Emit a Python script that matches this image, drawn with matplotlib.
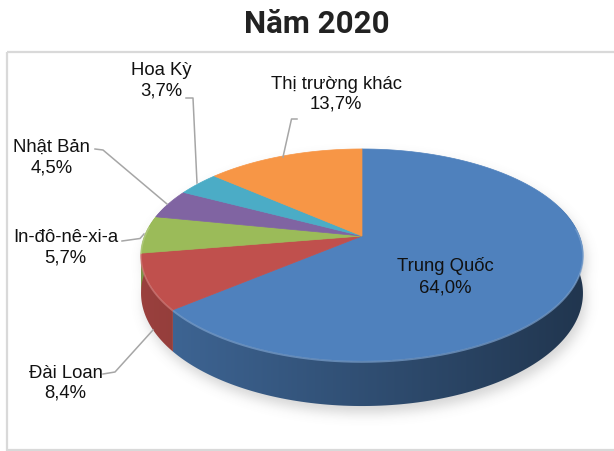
import numpy as np
import matplotlib
matplotlib.use("Agg")
import matplotlib.pyplot as plt
from matplotlib.patches import Polygon, Rectangle
from matplotlib.path import Path

# ---- data -------------------------------------------------------------
title = "Năm 2020"
markets = ["Trung Quốc", "Đài Loan", "In-đô-nê-xi-a", "Nhật Bản", "Hoa Kỳ", "Thị trường khác"]
shares = [64.0, 8.4, 5.7, 4.5, 3.7, 13.7]
colors = ["#4f81bd", "#c0504d", "#9bbb59", "#8064a2", "#4bacc6", "#f79646"]

# ---- figure in pixel coordinates -------------------------------------
W, H = 614, 452
fig = plt.figure(figsize=(W / 100, H / 100), dpi=100)
ax = fig.add_axes([0, 0, 1, 1])
ax.set_xlim(0, W)
ax.set_ylim(H, 0)
ax.axis("off")

# perspective projection of a tilted disc
cx, cy = 362.0, 237.0       # projected centre of the disc
A, B, P = 217.4, 102.6, 0.179
DEPTH = 37.0


def top_pt(t):
    s = 1 + P * np.sin(t)
    return cx + A * np.cos(t) / s, cy - B * np.sin(t) / s


def bot_pt(t):
    x, y = top_pt(t)
    return x, y + DEPTH / (1 + P * np.sin(t))


def rgb(h):
    h = h.lstrip("#")
    return np.array([int(h[i:i + 2], 16) / 255 for i in (0, 2, 4)])


# wedge boundaries: start at 12 o'clock, go clockwise
frac = np.array(shares) / np.sum(shares)
bounds = np.deg2rad(90 - 360 * np.concatenate([[0], np.cumsum(frac)]))

# ---- soft drop shadow ---------------------------------------------------
tt = np.linspace(0, 2 * np.pi, 400)
top_poly = np.column_stack(top_pt(tt))
bot_poly = np.column_stack(bot_pt(tt))
yy, xx = np.mgrid[0:H, 0:W] + 0.5
pts = np.column_stack([xx.ravel(), yy.ravel()])
off = np.array([3.0, 7.0])
mask = (Path(top_poly + off).contains_points(pts) |
        Path(bot_poly + off).contains_points(pts)).reshape(H, W).astype(float)
sig = 6.0
k = np.exp(-0.5 * (np.arange(-20, 21) / sig) ** 2)
k /= k.sum()
blur = np.apply_along_axis(lambda r: np.convolve(r, k, mode="same"), 1, mask)
blur = np.apply_along_axis(lambda c: np.convolve(c, k, mode="same"), 0, blur)
img = np.zeros((H, W, 4))
img[..., :3] = 0.45
img[..., 3] = 0.30 * blur
ax.imshow(img, extent=(0, W, H, 0), interpolation="bilinear", zorder=1)

# ---- side wall: shaded from light (left) to dark (right) ------------------
xrel = np.clip((xx - (cx - A)) / (2 * A), 0, 1)
yrel = np.clip((yy - cy) / 170.0, 0, 1)
shade = 0.80 - 0.38 * xrel
for i, c in enumerate(colors):
    ts = np.linspace(bounds[i], bounds[i + 1], 200)
    ts = ts[np.sin(ts) < 0.3]
    if len(ts) < 2:
        continue
    tx, ty = top_pt(ts)
    bx, by = bot_pt(ts)
    side = np.vstack([np.column_stack([tx, ty]),
                      np.column_stack([bx, by])[::-1]])
    patch = Polygon(side, closed=True, facecolor="none", edgecolor="none")
    ax.add_patch(patch)
    side_img = np.ones((H, W, 4))
    side_img[..., :3] = np.clip(rgb(c)[None, None, :] * shade[..., None], 0, 1)
    im = ax.imshow(side_img, extent=(0, W, H, 0), interpolation="bilinear",
                   zorder=2)
    im.set_clip_path(patch)

# ---- top face --------------------------------------------------------------
for i, c in enumerate(colors):
    ts = np.linspace(bounds[i], bounds[i + 1], 120)
    xs, ys = top_pt(ts)
    poly = np.vstack([[cx, cy], np.column_stack([xs, ys])])
    ax.add_patch(Polygon(poly, closed=True, facecolor=c, edgecolor=c,
                         lw=0.5, zorder=3))

# bevel highlight along the front rim
for i, c in enumerate(colors):
    ts = np.linspace(bounds[i], bounds[i + 1], 120)
    ts = ts[np.sin(ts) < 0.1]
    if len(ts) < 2:
        continue
    xs, ys = top_pt(ts)
    light = np.clip(rgb(c) * 0.75 + 0.25, 0, 1)
    ax.plot(xs, ys + 1.0, color=light, lw=1.2, alpha=0.7, zorder=4,
            solid_capstyle="butt")

# ---- frame and title -------------------------------------------------------
ax.add_patch(Rectangle((6.5, 53), 700, 398, fill=False, edgecolor="#d9d9d9",
                       lw=1.6, zorder=0))
ax.text(317, 33, title, ha="center", va="baseline", fontsize=22.5,
        fontweight="bold", family="Roboto", color="#222222", zorder=6)

# ---- labels with leader lines ----------------------------------------------
label_pos = [(445, 271.5, 292.5), (65.5, 378, 398), (65.5, 242.5, 263),
             (51.5, 151.5, 172.5), (161.5, 75, 95), (336, 89, 108.5)]
leaders = [None,
           [(103, 375), (115, 373), (153, 331)],
           [(122, 242), (140, 239.5), (144, 235)],
           [(95, 150), (103, 151), (167, 205)],
           [(186, 99), (193, 99), (197, 184)],
           [(297, 120), (291.5, 120), (283, 158)]]

for name, v, (lx, b1, b2), ld in zip(markets, shares, label_pos, leaders):
    pct = f"{v:.1f}%".replace(".", ",")
    ax.text(lx, b1, name, ha="center", va="baseline", fontsize=13.3,
            family="Liberation Sans", color="#111111", zorder=6)
    ax.text(lx, b2, pct, ha="center", va="baseline", fontsize=13.3,
            family="Liberation Sans", color="#111111", zorder=6)
    if ld is not None:
        lxs, lys = zip(*ld)
        ax.plot(lxs, lys, color="#a6a6a6", lw=1.1, zorder=5)

fig.savefig("out.png", dpi=100)
